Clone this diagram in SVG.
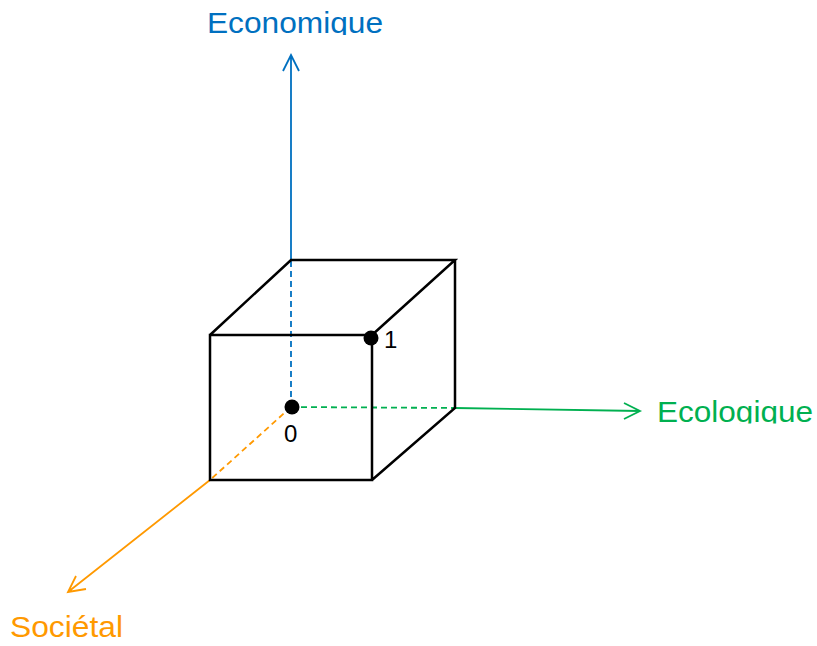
<svg xmlns="http://www.w3.org/2000/svg" width="817" height="646" viewBox="0 0 817 646">
<style>
.cube{fill:none;stroke:#000;stroke-width:2.5;stroke-linejoin:miter}
.ax{fill:none;stroke-width:1.8}
.dash{stroke-dasharray:6,4}
.lbl{font-family:"Liberation Sans",Arial,sans-serif;font-size:30px}
.num{font-family:"Liberation Sans",Arial,sans-serif;font-size:24px;fill:#000}
</style>
<defs>
<clipPath id="c1"><rect x="150" y="0" width="300" height="35"/></clipPath>
<clipPath id="c2"><rect x="640" y="380" width="177" height="43.5"/></clipPath>
</defs>
<rect width="817" height="646" fill="#fff"/>
<g id="connectors">
<path class="ax dash" stroke="#0070C0" d="M291,407 V260"/>
<path class="ax" stroke="#0070C0" d="M291,260 V55 M283,71 L291,55 L299,71"/>
<path class="ax dash" stroke="#00B050" d="M291,407 L455,408"/>
<path class="ax" stroke="#00B050" d="M455,408 L640,411 M624,403 L640,411 L624,419"/>
<path class="ax dash" stroke="#FF9900" d="M291,407 L210,480"/>
<path class="ax" stroke="#FF9900" d="M210,480 L68,592 M76,576 L68,592 L86,589"/>
</g>
<g id="cube">
<path class="cube" d="M210,335 H372 V480 H210 Z M210,335 L291,260 H455 L372,335 M455,260 V408 L372,480"/>
</g>
<g id="point0">
<circle cx="292" cy="407" r="7.5" fill="#000"/>
<text class="num" x="284" y="442">0</text>
</g>
<g id="point1">
<circle cx="371" cy="338" r="7.5" fill="#000"/>
<text class="num" x="384" y="348">1</text>
</g>
<g id="economique" clip-path="url(#c1)">
<text class="lbl" x="207" y="33" fill="#0070C0" textLength="176" lengthAdjust="spacingAndGlyphs">Economique</text>
</g>
<g id="ecologique" clip-path="url(#c2)">
<text class="lbl" x="657" y="421.5" fill="#00B050" textLength="156" lengthAdjust="spacingAndGlyphs">Ecologique</text>
</g>
<g id="societal">
<text class="lbl" x="10" y="637" fill="#FF9900" textLength="113" lengthAdjust="spacingAndGlyphs">Sociétal</text>
</g>
</svg>
